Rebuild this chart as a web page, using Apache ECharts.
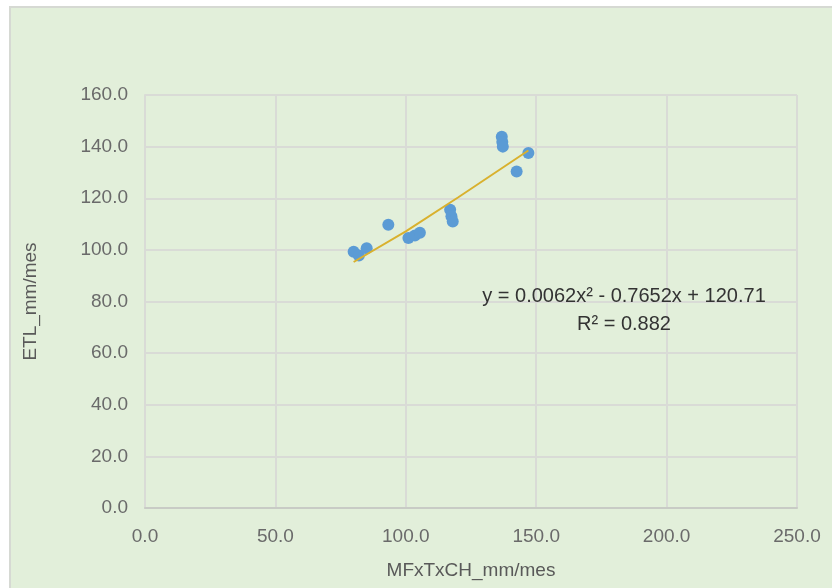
<!DOCTYPE html>
<html>
<head>
<meta charset="utf-8">
<script src="https://cdn.jsdelivr.net/npm/echarts@6/dist/echarts.min.js"></script>
<style>
html,body{margin:0;padding:0;background:#ffffff;}
#c{position:absolute;left:0;top:0;width:832px;height:588px;}
</style>
</head>
<body>
<div id="c"></div>
<script>
// Observed points (MFxTxCH_mm/mes vs ETL_mm/mes)
var xValues = [80.0, 82.0, 85.0, 93.3, 101.0, 103.5, 105.4, 117.0, 117.5, 118.0, 136.8, 137.0, 137.2, 142.5, 147.0];
var yValues = [99.3, 97.8, 100.6, 109.7, 104.6, 105.6, 106.6, 115.5, 113.0, 111.0, 143.8, 141.8, 140.0, 130.4, 137.5];
// Trendline as drawn in the picture
var trendX = [80.0, 100.0, 120.0, 147.0];
var trendY = [95.3, 107.2, 120.3, 138.5];
var xTicks = [0, 50, 100, 150, 200, 250];
var yTicks = [0, 20, 40, 60, 80, 100, 120, 140, 160];
var xName = 'MFxTxCH_mm/mes';
var yName = 'ETL_mm/mes';
var eqLine1 = 'y = 0.0062x\u00B2 - 0.7652x + 120.71';
var eqLine2 = 'R\u00B2 = 0.882';

var pts = xValues.map(function (x, i) { return [x, yValues[i]]; });
var trend = trendX.map(function (x, i) { return [x, trendY[i]]; });

var FONT = 'Liberation Sans';
var chart = echarts.init(document.getElementById('c'), null, { renderer: 'canvas' });
chart.setOption({
  animation: false,
  backgroundColor: 'transparent',
  graphic: [
    { type: 'rect', z: -10, silent: true,
      shape: { x: 10, y: 7, width: 840, height: 600 },
      style: { fill: '#e2efda', stroke: '#d6d9d3', lineWidth: 2 } },
    { type: 'text', x: 624, y: 286, z: 10,
      style: { text: eqLine1, fill: '#333333', textAlign: 'center', font: '20px "' + FONT + '"' } },
    { type: 'text', x: 624, y: 314, z: 10,
      style: { text: eqLine2, fill: '#333333', textAlign: 'center', font: '20px "' + FONT + '"' } }
  ],
  grid: { left: 145, right: 35, top: 95, bottom: 80, containLabel: false },
  xAxis: {
    type: 'value', min: xTicks[0], max: xTicks[xTicks.length - 1], interval: 50,
    name: xName, nameLocation: 'middle', nameGap: 53,
    nameTextStyle: { color: '#595959', fontSize: 19, fontFamily: FONT },
    axisLine: { show: true, lineStyle: { color: '#c8cbc5', width: 2 } },
    axisTick: { show: false },
    axisLabel: { color: '#6a6a6a', fontSize: 19, fontFamily: FONT, margin: 19,
      formatter: function (v) { return v.toFixed(1); } },
    splitLine: { show: true, lineStyle: { color: '#d9dbd6', width: 2 } }
  },
  yAxis: {
    type: 'value', min: yTicks[0], max: yTicks[yTicks.length - 1], interval: 20,
    name: yName, nameLocation: 'middle', nameGap: 105, nameRotate: 90,
    nameTextStyle: { color: '#595959', fontSize: 19, fontFamily: FONT },
    axisLine: { show: true, lineStyle: { color: '#d9dbd6', width: 2 } },
    axisTick: { show: false },
    axisLabel: { color: '#6a6a6a', fontSize: 19, fontFamily: FONT, margin: 17,
      formatter: function (v) { return v.toFixed(1); } },
    splitLine: { show: true, lineStyle: { color: '#d9dbd6', width: 2 } }
  },
  series: [
    { type: 'scatter', data: pts, symbol: 'circle', symbolSize: 12,
      itemStyle: { color: '#5b9bd5', opacity: 1 }, z: 3 },
    { type: 'line', data: trend, showSymbol: false, symbol: 'none',
      lineStyle: { color: '#d9b12e', width: 2 }, z: 4 }
  ]
});
</script>
</body>
</html>
